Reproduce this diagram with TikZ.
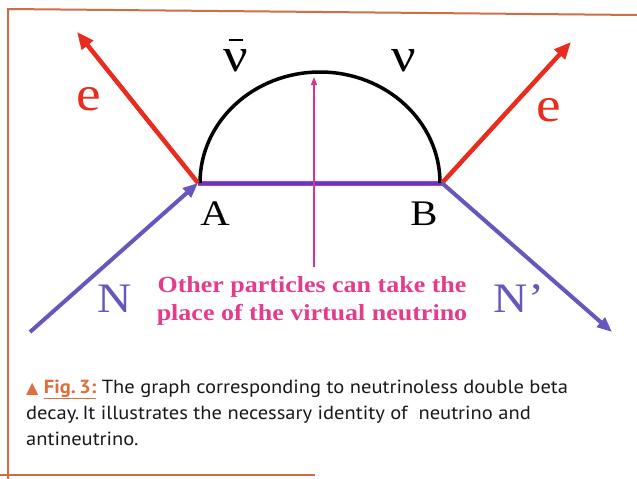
\documentclass[tikz,border=0pt]{standalone}
\usepackage{fontspec}
\setmainfont{Liberation Serif}
\newfontfamily\wideserif[FakeStretch=1.13]{Liberation Serif}
\newfontfamily\capfont[FakeStretch=1.08]{PT Sans}
\newfontfamily\symfont{DejaVu Sans}
\usetikzlibrary{arrows.meta}
\definecolor{frameor}{RGB}{205,110,70}
\definecolor{ered}{RGB}{232,45,30}
\definecolor{npurp}{RGB}{105,85,190}
\definecolor{vpink}{RGB}{220,50,150}
\definecolor{tpink}{RGB}{228,60,140}
\definecolor{capor}{RGB}{222,110,60}
\definecolor{captxt}{RGB}{25,25,25}
\tikzset{
  eline/.style={draw=ered,line width=4.5pt,-{Triangle[length=17pt,width=14pt]}},
  nline/.style={draw=npurp,line width=4pt,-{Triangle[length=15pt,width=12pt]}},
  lbl/.style={inner sep=0pt,anchor=center},
  capline/.style={inner sep=0pt,anchor=base west,text=captxt,font=\capfont\fontsize{19}{22}\selectfont},
}
\begin{document}
\begin{tikzpicture}[x=1pt,y=-1pt]
\useasboundingbox[fill=white] (0,0) rectangle (637,479);
% frame
\draw[frameor,line width=2pt] (8,479) -- (8,9) -- (637,15);
\draw[frameor,line width=2pt] (0,475) -- (315,475);
% key points
\coordinate (A) at (198,183);
\coordinate (B) at (442,183);
\coordinate (eL) at (77,32);
\coordinate (eR) at (571,42);
\coordinate (Nin) at (30,332);
\coordinate (Nout) at (612,332);
\coordinate (vb) at (314,267);
\coordinate (vt) at (314,77);
\coordinate (arcL) at (200,183);
\coordinate (arcT) at (320,72);
\coordinate (arcR) at (440,183);
% A-B propagator
\draw[vpink,line width=5pt] (A) -- (B);
\draw[npurp!75!blue,line width=3pt] (A) -- (B);
% arc (half ellipse)
\draw[black,line width=3.5pt] (arcL) .. controls (200,121.7) and (253.7,72) .. (arcT)
  .. controls (386.3,72) and (440,121.7) .. (arcR);
% pink arrow
\draw[vpink,line width=1.4pt,-{Triangle[length=8pt,width=6pt]}] (vb) -- (vt);
% electrons
\draw[eline] (A) -- (eL);
\draw[eline] (B) -- (eR);
% nucleons
\draw[nline] (Nin) -- (A);
\draw[nline] (B) -- (Nout);
% labels
\node[lbl,text=ered,font=\wideserif\fontsize{49}{49}\selectfont] (le1) at (89,99) {e};
\node[lbl,text=ered,font=\wideserif\fontsize{49}{49}\selectfont] (le2) at (549,110) {e};
\node[lbl,font=\wideserif\fontsize{48}{48}\selectfont] (lnub) at (236,61) {ν};
\draw[black,line width=2pt] (229,40) -- (243,40);
\node[lbl,font=\wideserif\fontsize{48}{48}\selectfont] (lnu) at (404,61) {ν};
\node[lbl,font=\wideserif\fontsize{36}{36}\selectfont] (lA) at (215,214) {A};
\node[lbl,font=\wideserif\fontsize{36}{36}\selectfont] (lB) at (424,214) {B};
\node[lbl,text=npurp,font=\wideserif\fontsize{42}{42}\selectfont] (lN) at (115,299) {N};
\node[lbl,text=npurp,font=\wideserif\fontsize{42}{42}\selectfont] (lNp) at (519,299) {N’};
\node[lbl,text=tpink,font=\wideserif\bfseries\fontsize{23}{28}\selectfont,align=center] (lother) at (312,301) {Other particles can take the\\place of the virtual neutrino};
% caption
\node[capline] (cap1) at (26,393) {{\color{capor}\symfont\fontsize{16}{16}\selectfont ▲} {\color{capor}\bfseries\underline{Fig.\,3:}} The graph corresponding to neutrinoless double beta};
\node[capline] (cap2) at (26,419) {decay.\,It illustrates the necessary identity of\ \ neutrino and};
\node[capline] (cap3) at (26,445) {antineutrino.};
\end{tikzpicture}
\end{document}
